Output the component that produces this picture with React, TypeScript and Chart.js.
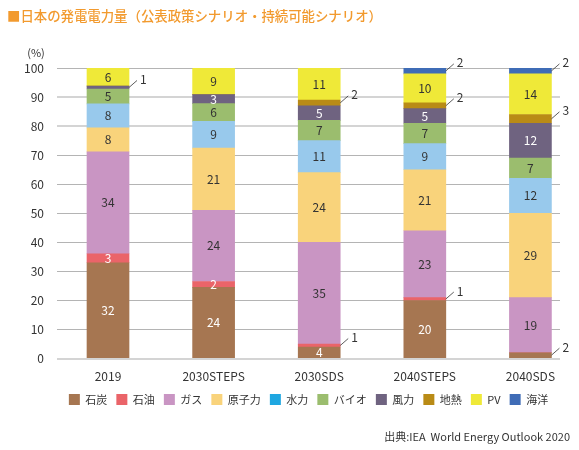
import React, { useEffect, useRef } from 'react';
import { Chart, registerables } from 'chart.js';

Chart.register(...registerables);

// ---- data (values as printed in the reference, share %) ----
const categories = ['2019', '2030STEPS', '2030SDS', '2040STEPS', '2040SDS'];
const seriesNames = ['石炭', '石油', 'ガス', '原子力', '水力', 'バイオ', '風力', '地熱', 'PV', '海洋'];
const coal = [32, 24, 4, 20, 2];
const oil = [3, 2, 1, 1, 0];
const gas = [34, 24, 35, 23, 19];
const nuclear = [8, 21, 24, 21, 29];
const hydro = [8, 9, 11, 9, 12];
const bio = [5, 6, 7, 7, 7];
const wind = [1, 3, 5, 5, 12];
const geothermal = [0, 0, 2, 2, 3];
const pv = [6, 9, 11, 10, 14];
const ocean = [0, 0, 0, 2, 2];
const seriesValues = [coal, oil, gas, nuclear, hydro, bio, wind, geothermal, pv, ocean];
// segments labelled outside the bar with a leader line: [series index, category index]
const callouts: [number, number][] = [
  [6, 0], [1, 2], [7, 2], [1, 3], [7, 3], [9, 3], [0, 4], [7, 4], [9, 4],
];

const titleText = '■日本の発電電力量（公表政策シナリオ・持続可能シナリオ）';
const sourceText = '出典:IEA  World Energy Outlook 2020';

// ---- styles ----
const colors = ['#a67651', '#ea6469', '#c995c3', '#f9d37b', '#98c9ec', '#9bbd6e', '#6f6380', '#b98b16', '#efe938', '#3f6cb6'];
const legendColors = ['#a67651', '#ea6469', '#c995c3', '#f9d37b', '#1fa7e1', '#9bbd6e', '#6f6380', '#b98b16', '#efe938', '#3f6cb6'];
const whiteLabelSeries = [0, 1, 6];
const FONT = '"Noto Sans CJK JP", "Noto Sans", sans-serif';
const TEXT = '#333333';

const segLabelPlugin = {
  id: 'segLabels',
  afterDatasetsDraw(chart: any) {
    const ctx = chart.ctx;
    ctx.save();
    ctx.font = `12px ${FONT}`;
    ctx.textBaseline = 'middle';
    seriesValues.forEach((arr, d) => {
      const meta = chart.getDatasetMeta(d);
      meta.data.forEach((el: any, i: number) => {
        const v = arr[i];
        if (!v) return;
        const mid = (el.y + el.base) / 2;
        const isCallout = callouts.some(([s, c]) => s === d && c === i);
        if (isCallout) {
          const x0 = el.x + el.width / 2;
          ctx.strokeStyle = TEXT;
          ctx.lineWidth = 0.8;
          ctx.beginPath();
          ctx.moveTo(x0, mid);
          ctx.lineTo(x0 + 8, mid - 7);
          ctx.stroke();
          ctx.fillStyle = TEXT;
          ctx.textAlign = 'left';
          ctx.fillText(String(v), x0 + 11, mid - 8);
        } else {
          ctx.fillStyle = whiteLabelSeries.includes(d) ? '#ffffff' : TEXT;
          ctx.textAlign = 'center';
          ctx.fillText(String(v), el.x, mid);
        }
      });
    });
    ctx.restore();
  },
};

const textPlugin = {
  id: 'extraText',
  afterLayout(chart: any) {
    // pull the legend up a little, closer to the category labels
    const lg = chart.legend;
    if (lg) { lg.top -= 10; lg.bottom -= 10; }
  },
  afterDraw(chart: any) {
    const ctx = chart.ctx;
    const area = chart.chartArea;
    ctx.save();
    ctx.textBaseline = 'middle';
    ctx.fillStyle = '#f29a2e';
    ctx.textAlign = 'left';
    ctx.font = `500 13.4px ${FONT}`;
    ctx.fillText(titleText, 7, 16);
    ctx.fillStyle = TEXT;
    ctx.font = `11px ${FONT}`;
    ctx.textAlign = 'center';
    ctx.fillText('(%)', area.left - 21, area.top - 15);
    ctx.textAlign = 'right';
    ctx.fillText(sourceText, 570, 437);
    ctx.restore();
  },
};

export default function App() {
  const ref = useRef<HTMLCanvasElement>(null);
  useEffect(() => {
    if (!ref.current) return;
    const totals = categories.map((_, i) => seriesValues.reduce((s, arr) => s + arr[i], 0));
    const datasets = seriesValues.map((arr, d) => ({
      label: seriesNames[d],
      data: arr.map((v, i) => ({ x: i, y: (v / totals[i]) * 100 })),
      backgroundColor: colors[d],
      borderWidth: 0,
      barThickness: 42,
    }));
    Chart.defaults.font.family = FONT;
    Chart.defaults.color = TEXT;
    const chart = new Chart(ref.current, {
      type: 'bar',
      data: { datasets },
      options: {
        animation: false,
        responsive: false,
        devicePixelRatio: 1,
        layout: { padding: { left: 12, right: 19, top: 68, bottom: 25 } },
        scales: {
          x: {
            type: 'linear',
            stacked: true,
            offset: false,
            min: -0.483,
            max: 4.28,
            grid: { display: false, drawTicks: false },
            border: { display: false },
            ticks: {
              stepSize: 1,
              includeBounds: false,
              autoSkip: false,
              maxRotation: 0,
              padding: 11,
              color: TEXT,
              font: { size: 12 },
              callback: (v: any) => (Number.isInteger(v) && categories[v] !== undefined ? categories[v] : ''),
            },
          },
          y: {
            stacked: true,
            min: 0,
            max: 100,
            afterFit: (s: any) => { s.width = 45; },
            border: { display: false },
            grid: {
              drawTicks: false,
              color: (c: any) => ([0, 80, 90].includes(c.tick?.value) ? '#d4d4d4' : '#b4b4b4'),
              lineWidth: (c: any) => ([0, 80, 90].includes(c.tick?.value) ? 2 : 1),
            },
            ticks: { stepSize: 10, padding: 13, color: TEXT, font: { size: 12 } },
          },
        },
        plugins: {
          title: { display: false },
          tooltip: { enabled: false },
          legend: {
            position: 'bottom',
            fullSize: false,
            labels: {
              boxWidth: 11,
              boxHeight: 11,
              padding: 9,
              color: TEXT,
              font: { size: 11 },
              generateLabels: (ch: any) => {
                const items = (Chart.defaults.plugins.legend.labels as any).generateLabels(ch);
                return items.map((it: any, k: number) => ({
                  ...it,
                  fillStyle: legendColors[k],
                  strokeStyle: legendColors[k],
                  lineWidth: 0,
                }));
              },
            },
          },
        },
      } as any,
      plugins: [segLabelPlugin, textPlugin],
    });
    return () => chart.destroy();
  }, []);
  return (
    <div style={{ position: 'absolute', left: 0, top: 0, width: 579, height: 450, background: '#fff' }}>
      <canvas ref={ref} width={579} height={450} style={{ display: 'block' }} />
    </div>
  );
}
